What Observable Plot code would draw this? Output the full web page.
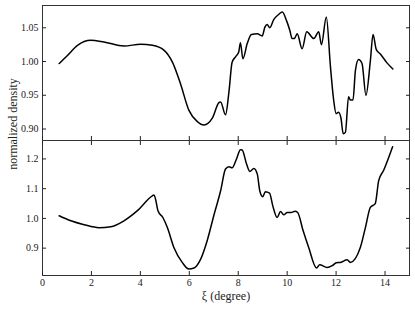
<!DOCTYPE html>
<html><head><meta charset="utf-8">
<script src="https://cdn.jsdelivr.net/npm/d3@7"></script>
<script src="https://cdn.jsdelivr.net/npm/@observablehq/plot@0.6"></script>
<style>
body{margin:0;background:#fff;}
#wrap{position:relative;width:415px;height:312px;font-family:"Liberation Serif",serif;}
#wrap svg{display:block;}
#ylab{position:absolute;left:13px;top:124px;transform:translate(-50%,-50%) rotate(-90deg);transform-origin:center;white-space:nowrap;font-size:12px;line-height:1;color:#222;}
</style></head>
<body><div id="wrap"></div>
<script>
const xiTop = [0.68,1.02,1.43,1.97,2.51,3.33,4.01,4.49,4.96,5.31,5.64,5.98,6.33,6.6,6.94,7.21,7.28,7.48,7.62,7.75,7.89,8.02,8.09,8.19,8.37,8.54,8.78,8.98,9.09,9.18,9.29,9.45,9.66,9.80,9.97,10.11,10.2,10.29,10.41,10.61,10.8,11.09,11.29,11.4,11.6,11.77,11.9,12.0,12.1,12.2,12.29,12.38,12.51,12.58,12.69,12.79,12.92,13.06,13.22,13.4,13.51,13.64,13.81,14.08,14.32];
const densTop = [0.997,1.009,1.024,1.0315,1.029,1.023,1.0256,1.024,1.017,0.999,0.967,0.928,0.911,0.906,0.916,0.939,0.940,0.921,0.955,0.999,1.007,1.014,1.028,1.004,1.027,1.040,1.041,1.038,1.051,1.055,1.050,1.062,1.070,1.0734,1.061,1.046,1.034,1.034,1.041,1.019,1.044,1.034,1.044,1.025,1.066,0.992,0.943,0.923,0.925,0.916,0.893,0.895,0.948,0.943,0.943,0.987,1.003,0.997,0.950,1.001,1.040,1.018,1.011,0.998,0.989];
const xiBot = [0.68,1.16,1.70,2.31,2.79,3.33,3.88,4.49,4.56,4.62,4.72,4.92,5.10,5.37,5.71,5.98,6.19,6.46,6.73,7.0,7.28,7.48,7.62,7.75,7.93,8.09,8.16,8.34,8.47,8.64,8.78,8.88,9.0,9.11,9.28,9.41,9.59,9.73,9.86,10.0,10.16,10.32,10.43,10.65,10.88,11.2,11.33,11.63,11.84,12.01,12.18,12.45,12.58,12.99,13.2,13.4,13.6,13.74,13.94,14.15,14.31];
const densBot = [1.009,0.992,0.979,0.969,0.972,0.992,1.026,1.076,1.079,1.065,1.026,1.003,0.970,0.902,0.852,0.830,0.833,0.862,0.925,1.009,1.093,1.166,1.174,1.170,1.200,1.231,1.230,1.183,1.158,1.168,1.149,1.093,1.073,1.090,1.085,1.043,1.003,1.023,1.012,1.020,1.020,1.024,1.020,0.959,0.902,0.833,0.844,0.835,0.841,0.851,0.852,0.861,0.852,0.902,0.970,1.037,1.050,1.127,1.161,1.205,1.241];
const xTicks = [0,2,4,6,8,10,12,14];
const yTicksTop = [0.90,0.95,1.00,1.05];
const yTicksBot = [0.9,1.0,1.1,1.2];

const topData = xiTop.map((x,i)=>({x, y: densTop[i]}));
const botData = xiBot.map((x,i)=>({x, y: densBot[i]}));

const common = {width:415, marginLeft:42, marginRight:6, style:{fontFamily:"Liberation Serif, serif", fontSize:"10px", color:"#222", background:"white"}};

const topPlot = Plot.plot({
  ...common, height:140, marginTop:5, marginBottom:0,
  x:{domain:[0,15]},
  y:{domain:[0.883,1.083]},
  marks:[
    Plot.frame({stroke:"#333", strokeWidth:1}),
    Plot.axisY(yTicksTop,{anchor:"left", tickSize:0, tickPadding:4, tickFormat:d3.format(".2f"), label:null}),
    Plot.axisY(yTicksTop,{anchor:"left", tickSize:-4, text:null, label:null}),
    Plot.axisY(yTicksTop,{anchor:"right", tickSize:-4, text:null, label:null}),
    Plot.axisX(xTicks,{anchor:"bottom", tickSize:-4, text:null, label:null}),
    Plot.line(topData,{x:"x", y:"y", stroke:"black", strokeWidth:1.5, curve:"monotone-x"})
  ]
});

const botPlot = Plot.plot({
  ...common, height:172, marginTop:0, marginBottom:37,
  x:{domain:[0,15]},
  y:{domain:[0.808,1.262]},
  marks:[
    Plot.frame({stroke:"#333", strokeWidth:1}),
    Plot.axisY(yTicksBot,{anchor:"left", tickSize:0, tickPadding:4, tickFormat:d3.format(".1f"), label:null}),
    Plot.axisY(yTicksBot,{anchor:"left", tickSize:-4, text:null, label:null}),
    Plot.axisY(yTicksBot,{anchor:"right", tickSize:-4, text:null, label:null}),
    Plot.axisX(xTicks,{anchor:"bottom", tickSize:0, tickPadding:3, tickFormat:d3.format("d"), label:null}),
    Plot.axisX(xTicks,{anchor:"bottom", tickSize:-4, text:null, label:null}),
    Plot.axisX(xTicks,{anchor:"top", tickSize:-4, text:null, label:null}),
    Plot.text(["ξ (degree)"],{frameAnchor:"bottom", dy:24, fontSize:12, fill:"#222"}),
    Plot.line(botData,{x:"x", y:"y", stroke:"black", strokeWidth:1.5, curve:"monotone-x"})
  ]
});

const wrap = document.getElementById("wrap");
wrap.appendChild(topPlot);
wrap.appendChild(botPlot);
const yl = document.createElement("div");
yl.id = "ylab";
yl.textContent = "normalized density";
wrap.appendChild(yl);
</script></body></html>
